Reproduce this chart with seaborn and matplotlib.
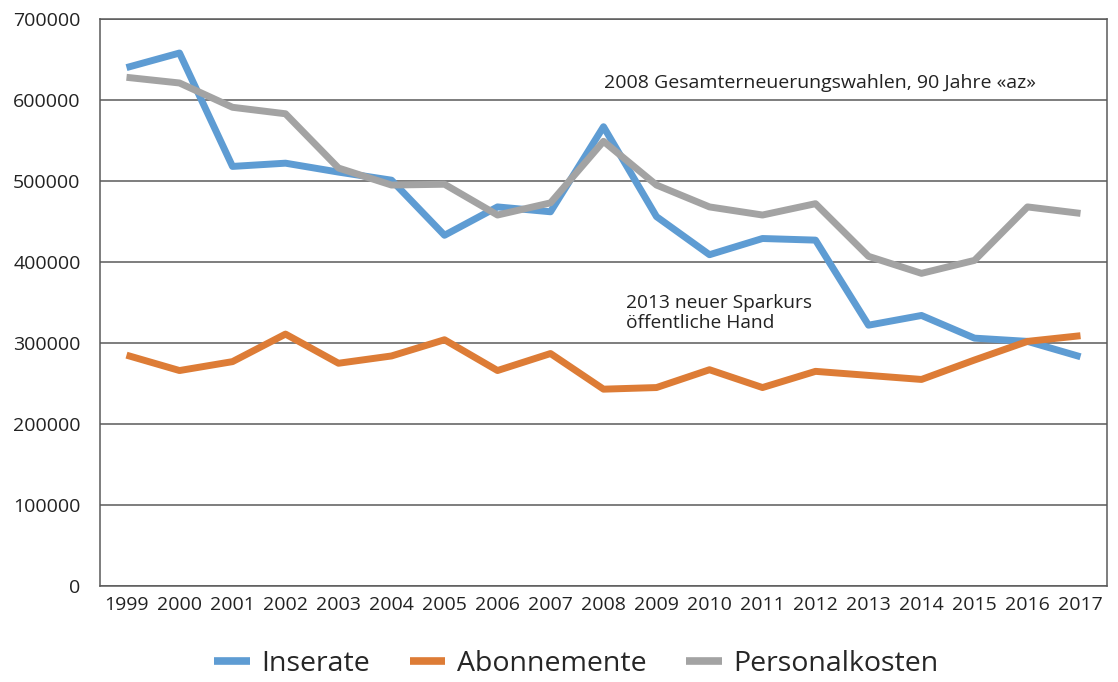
import matplotlib
matplotlib.use("Agg")
import matplotlib.pyplot as plt
import seaborn as sns
import pandas as pd

years = [str(y) for y in range(1999, 2018)]
inserate = [640000, 658000, 518000, 522000, 511000, 501000, 433000, 468000, 462000,
            567000, 456000, 409000, 429000, 427000, 322000, 334000, 306000, 302000, 283000]
abonnemente = [285000, 266000, 277000, 311000, 275000, 284000, 304000, 266000, 287000,
               243000, 245000, 267000, 245000, 265000, 260000, 255000, 279000, 302000, 309000]
personalkosten = [628000, 621000, 591000, 583000, 516000, 495000, 496000, 458000, 473000,
                  549000, 495000, 468000, 458000, 472000, 407000, 386000, 402000, 468000, 460000]
series_names = ["Inserate", "Abonnemente", "Personalkosten"]
y_ticks = [0, 100000, 200000, 300000, 400000, 500000, 600000, 700000]
note_2008 = "2008 Gesamterneuerungswahlen, 90 Jahre «az»"
note_2013 = "2013 neuer Sparkurs\nöffentliche Hand"

df = pd.DataFrame({
    "Jahr": years * 3,
    "Wert": inserate + abonnemente + personalkosten,
    "Serie": [series_names[0]] * len(years) + [series_names[1]] * len(years) + [series_names[2]] * len(years),
})

sns.set_style("white")
plt.rcParams["font.family"] = ["Open Sans", "DejaVu Sans"]

colors = {"Inserate": "#5E9CD3", "Abonnemente": "#DD7C36", "Personalkosten": "#A3A3A3"}

fig = plt.figure(figsize=(11.18, 6.82), dpi=100)
ax = fig.add_axes([100 / 1118, 1 - 586 / 682, (1107 - 100) / 1118, (586 - 19) / 682])

sns.lineplot(data=df, x="Jahr", y="Wert", hue="Serie", palette=colors, linewidth=5,
             sort=False, ax=ax, legend=True, solid_capstyle="butt")

ax.set_xlim(-0.5, len(years) - 0.5)
ax.set_ylim(0, 700000)
ax.set_yticks(y_ticks)
ax.set_yticklabels([str(v) for v in y_ticks])
ax.set_xticks(range(len(years)))
ax.set_xticklabels(years)
ax.tick_params(axis="y", labelsize=14, length=0, pad=14, colors="#222222")
ax.tick_params(axis="x", labelsize=14, length=0, pad=7, colors="#222222")
ax.set_xlabel("")
ax.set_ylabel("")
ax.grid(axis="y", color="#5a5a5a", linewidth=1.1)
ax.set_axisbelow(True)
for s in ax.spines.values():
    s.set_visible(True)
    s.set_color("#5a5a5a")
    s.set_linewidth(1.1)

ax.text(9.0, 621000, note_2008, fontsize=14, color="#222222", ha="left", va="center")
ax.text(9.42, 337000, note_2013, fontsize=13.8, color="#222222", ha="left", va="center",
        linespacing=1.2)

handles, labels = ax.get_legend_handles_labels()
ax.legend(handles, labels, loc="center", bbox_to_anchor=(0.473, -0.138), ncol=3, frameon=False,
          fontsize=20.5, handlelength=1.25, handletextpad=0.4, columnspacing=1.4)
for h in ax.get_legend().get_lines():
    h.set_linewidth(5.5)

fig.savefig("out.png", dpi=100)
